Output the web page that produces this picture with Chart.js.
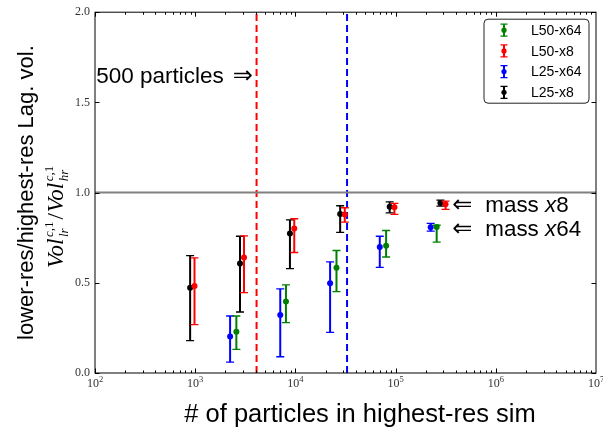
<!DOCTYPE html>
<html>
<head>
<meta charset="utf-8">
<script src="https://cdn.jsdelivr.net/npm/chart.js@4.4.1/dist/chart.umd.min.js"></script>
<style>
  html, body { margin: 0; padding: 0; background: #fff; }
</style>
</head>
<body>
<canvas id="myChart" width="603" height="427"></canvas>
<script>
'use strict';

// Lagrangian volume ratio vs. particle count, one series per run
let seriesNames = ['L50-x64', 'L50-x8', 'L25-x64', 'L25-x8'];
let seriesColors = ['#008000', '#ff0000', '#0000ff', '#000000'];

let l50x64N = [2575, 8050, 25700, 80400, 257000];
let l50x64Val = [0.229, 0.397, 0.584, 0.705, 0.810];
let l50x64Lo = [0.131, 0.279, 0.451, 0.643, 0.726];
let l50x64Hi = [0.316, 0.488, 0.679, 0.790, 0.819];

let l50x8N = [984, 3070, 9740, 31100, 97300, 315000];
let l50x8Val = [0.482, 0.640, 0.801, 0.879, 0.919, 0.936];
let l50x8Lo = [0.268, 0.445, 0.668, 0.836, 0.879, 0.907];
let l50x8Hi = [0.638, 0.760, 0.855, 0.916, 0.940, 0.953];

let l25x64N = [2230, 7060, 22200, 69500, 224000];
let l25x64Val = [0.203, 0.321, 0.497, 0.699, 0.808];
let l25x64Lo = [0.060, 0.090, 0.225, 0.586, 0.786];
let l25x64Hi = [0.316, 0.466, 0.616, 0.758, 0.829];

let l25x8N = [890, 2800, 8820, 27970, 87300, 280000];
let l25x8Val = [0.473, 0.607, 0.773, 0.882, 0.921, 0.942];
let l25x8Lo = [0.179, 0.338, 0.579, 0.779, 0.888, 0.925];
let l25x8Hi = [0.651, 0.758, 0.849, 0.927, 0.949, 0.958];

// 500 particles in the lower-res runs (x8 and x64)
let limitN = [4096, 32768];
let limitColors = ['#ff0000', '#0000ff'];
let unityY = 1.0;

let xTickExps = [2, 3, 4, 5, 6, 7];
let yTickLabels = ['0.0', '0.5', '1.0', '1.5', '2.0'];

function makeSeries(i, xs, vals, lo, hi) {
    return {
        type: 'scatter',
        label: seriesNames[i],
        data: xs.map((x, k) => ({ x: x, y: vals[k] })),
        errLo: lo,
        errHi: hi,
        backgroundColor: seriesColors[i],
        borderWidth: 0,
        pointRadius: 3,
        order: 0
    };
}

let datasets = [
    {
        type: 'line',
        data: [{ x: 100, y: unityY }, { x: 1e7, y: unityY }],
        borderColor: '#808080',
        borderWidth: 2,
        pointRadius: 0,
        order: 10
    }
];
limitN.forEach((n, i) => {
    datasets.push({
        type: 'line',
        data: [{ x: n, y: 0 }, { x: n, y: 2 }],
        borderColor: limitColors[i],
        borderWidth: 2,
        borderDash: [7, 4],
        pointRadius: 0,
        order: 10
    });
});
datasets.push(makeSeries(0, l50x64N, l50x64Val, l50x64Lo, l50x64Hi));
datasets.push(makeSeries(1, l50x8N, l50x8Val, l50x8Lo, l50x8Hi));
datasets.push(makeSeries(2, l25x64N, l25x64Val, l25x64Lo, l25x64Hi));
datasets.push(makeSeries(3, l25x8N, l25x8Val, l25x8Lo, l25x8Hi));

function drawErrBar(ctx, px, top, bot, color, cap) {
    ctx.strokeStyle = color;
    ctx.lineWidth = 2;
    ctx.beginPath();
    ctx.moveTo(px, top);
    ctx.lineTo(px, bot);
    ctx.stroke();
    ctx.lineWidth = 1.3;
    ctx.beginPath();
    ctx.moveTo(px - cap, top);
    ctx.lineTo(px + cap, top);
    ctx.moveTo(px - cap, bot);
    ctx.lineTo(px + cap, bot);
    ctx.stroke();
}

// vertical error bars, drawn just under each series' points
let errorBars = {
    id: 'errorBars',
    beforeDatasetDraw(chart, args) {
        let ds = chart.data.datasets[args.index];
        if (!ds.errLo) return;
        let xs = chart.scales.x;
        let ys = chart.scales.y;
        let ctx = chart.ctx;
        ctx.save();
        ds.data.forEach((p, i) => {
            let px = xs.getPixelForValue(p.x);
            drawErrBar(ctx, px, ys.getPixelForValue(ds.errHi[i]), ys.getPixelForValue(ds.errLo[i]), ds.backgroundColor, 4);
        });
        ctx.restore();
    }
};

// axes box with inward ticks, titles, notes and legend
let frame = {
    id: 'frame',
    afterDraw(chart) {
        let ctx = chart.ctx;
        let a = chart.chartArea;
        let xs = chart.scales.x;
        let ys = chart.scales.y;
        ctx.save();

        ctx.strokeStyle = '#000';
        ctx.lineWidth = 1;
        ctx.strokeRect(a.left, a.top, a.right - a.left, a.bottom - a.top);

        ctx.beginPath();
        for (let e = 2; e < 7; e++) {
            for (let m = 1; m < 10; m++) {
                let px = Math.round(xs.getPixelForValue(m * Math.pow(10, e))) + 0.5;
                let len = m === 1 ? 4.5 : 2.5;
                ctx.moveTo(px, a.bottom);
                ctx.lineTo(px, a.bottom - len);
                ctx.moveTo(px, a.top);
                ctx.lineTo(px, a.top + len);
            }
        }
        yTickLabels.forEach((t, i) => {
            let py = Math.round(ys.getPixelForValue(i * 0.5)) + 0.5;
            ctx.moveTo(a.left, py);
            ctx.lineTo(a.left + 4.5, py);
            ctx.moveTo(a.right, py);
            ctx.lineTo(a.right - 4.5, py);
        });
        ctx.stroke();

        // decade labels 10^n
        ctx.fillStyle = '#333';
        ctx.textBaseline = 'alphabetic';
        xTickExps.forEach(e => {
            let px = xs.getPixelForValue(Math.pow(10, e));
            ctx.font = '12px "Liberation Serif"';
            let w1 = ctx.measureText('10').width;
            ctx.font = '8.5px "Liberation Serif"';
            let w2 = ctx.measureText(String(e)).width;
            let left = px - (w1 + w2) / 2;
            ctx.font = '12px "Liberation Serif"';
            ctx.textAlign = 'left';
            ctx.fillText('10', left, 387);
            ctx.font = '8.5px "Liberation Serif"';
            ctx.fillText(String(e), left + w1, 381.5);
        });

        // axis titles
        ctx.fillStyle = '#000';
        ctx.font = '25.5px "Liberation Sans"';
        ctx.textAlign = 'center';
        ctx.fillText('# of particles in highest-res sim', 360, 422);

        ctx.save();
        ctx.translate(33, (a.top + a.bottom) / 2);
        ctx.rotate(-Math.PI / 2);
        ctx.font = '22px "Liberation Sans"';
        ctx.fillText('lower-res/highest-res Lag. vol.', 0, 0);
        ctx.restore();

        // Vol_lr^{c,1} / Vol_hr^{c,1}
        ctx.save();
        ctx.translate(63, 268);
        ctx.rotate(-Math.PI / 2);
        ctx.textAlign = 'left';
        let cx = 0;
        let big = 'italic 23px "Liberation Serif"';
        let drawVol = (sub) => {
            ctx.font = big;
            ctx.fillText('Vol', cx, 0);
            cx += ctx.measureText('Vol').width + 1.5;
            ctx.font = 'italic 13px "Liberation Serif"';
            let wc = ctx.measureText('c').width;
            ctx.fillText('c', cx, -10);
            ctx.font = '13px "Liberation Serif"';
            ctx.fillText(',1', cx + wc, -10);
            let wsup = wc + ctx.measureText(',1').width;
            ctx.font = 'italic 13px "Liberation Serif"';
            ctx.fillText(sub, cx, 5);
            cx += Math.max(wsup, ctx.measureText(sub).width) + 2;
        };
        drawVol('lr');
        ctx.font = '23px "Liberation Serif"';
        ctx.fillText('/', cx, 0);
        cx += ctx.measureText('/').width + 1;
        drawVol('hr');
        ctx.restore();

        // notes
        ctx.textAlign = 'left';
        ctx.font = '22.5px "Liberation Sans"';
        let nx = xs.getPixelForValue(103);
        let ny = ys.getPixelForValue(1.61);
        ctx.fillText('500 particles', nx, ny);
        let nw = ctx.measureText('500 particles').width;
        ctx.font = '24px "DejaVu Sans"';
        ctx.fillText('\u21D2', nx + nw + 9, ny);

        let massNotes = [['8', 0.893], ['64', 0.761]];
        massNotes.forEach(n => {
            let px = xs.getPixelForValue(368000);
            let py = ys.getPixelForValue(n[1]);
            ctx.font = '24px "DejaVu Sans"';
            ctx.fillText('\u21D0', px, py);
            ctx.font = '22.4px "Liberation Sans"';
            let tx = px + 33;
            ctx.fillText('mass ', tx, py);
            tx += ctx.measureText('mass ').width;
            ctx.font = 'italic 22.4px "Liberation Sans"';
            ctx.fillText('x', tx, py);
            tx += ctx.measureText('x').width;
            ctx.font = '22.4px "Liberation Sans"';
            ctx.fillText(n[0], tx, py);
        });

        // legend
        let lx = a.right - 112;
        let ly = a.top + 7;
        ctx.beginPath();
        ctx.roundRect(lx, ly, 105, 84, 4);
        ctx.fillStyle = '#fff';
        ctx.fill();
        ctx.strokeStyle = '#222';
        ctx.lineWidth = 1;
        ctx.stroke();
        ctx.textBaseline = 'middle';
        ctx.font = '14px "Liberation Sans"';
        seriesNames.forEach((name, i) => {
            let ry = ly + 11 + i * 20.7;
            drawErrBar(ctx, lx + 20, ry - 6, ry + 6, seriesColors[i], 3.5);
            ctx.fillStyle = seriesColors[i];
            ctx.beginPath();
            ctx.arc(lx + 20, ry, 2.6, 0, Math.PI * 2);
            ctx.fill();
            ctx.fillStyle = '#000';
            ctx.fillText(name, lx + 47, ry + 1);
        });

        ctx.restore();
    }
};

let ctx = document.getElementById('myChart').getContext('2d');
let myChart = new Chart(ctx, {
    type: 'scatter',
    data: { datasets: datasets },
    options: {
        responsive: false,
        animation: false,
        layout: { padding: { top: 12, right: 7, left: 0, bottom: 0 } },
        plugins: {
            legend: { display: false },
            tooltip: { enabled: false }
        },
        scales: {
            x: {
                type: 'logarithmic',
                min: 100,
                max: 1e7,
                grid: { display: false, drawTicks: false },
                border: { display: false },
                ticks: { display: false },
                afterFit(scale) { scale.height = 54; }
            },
            y: {
                min: 0,
                max: 2,
                grid: { display: false, drawTicks: false },
                border: { display: false },
                ticks: {
                    stepSize: 0.5,
                    padding: 5,
                    color: '#333',
                    font: { family: 'Liberation Serif', size: 12 },
                    callback: (v, i) => yTickLabels[i]
                },
                afterFit(scale) { scale.width = 95; }
            }
        }
    },
    plugins: [errorBars, frame]
});
</script>
</body>
</html>
